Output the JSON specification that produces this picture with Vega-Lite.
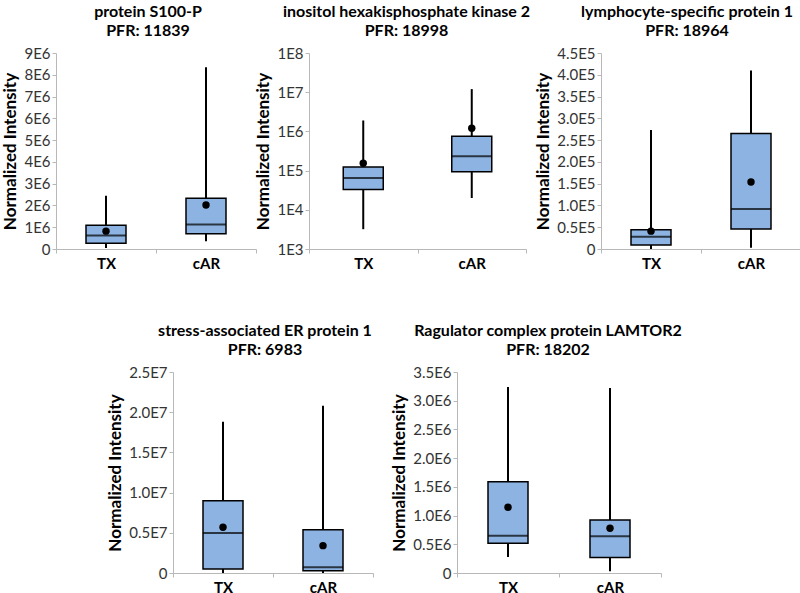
{
  "$schema": "https://vega.github.io/schema/vega-lite/v6.json",
  "padding": {"left": 1, "top": 4, "right": 0, "bottom": 0},
  "background": "white",
  "data": {"values": [
    {"panel": "p1", "group": "TX", "min": 50000, "q1": 260000, "median": 620000, "q3": 1090000, "max": 2440000, "mean": 820000},
    {"panel": "p1", "group": "cAR", "min": 360000, "q1": 700000, "median": 1130000, "q3": 2330000, "max": 8350000, "mean": 2020000},
    {"panel": "p2", "group": "TX", "min": 3200, "q1": 33000, "median": 65000, "q3": 123000, "max": 1900000, "mean": 155000},
    {"panel": "p2", "group": "cAR", "min": 20000, "q1": 94000, "median": 234000, "q3": 750000, "max": 12000000, "mean": 1200000},
    {"panel": "p3", "group": "TX", "min": 0, "q1": 9000, "median": 28000, "q3": 44000, "max": 273000, "mean": 41000},
    {"panel": "p3", "group": "cAR", "min": 3000, "q1": 46000, "median": 92000, "q3": 265000, "max": 410000, "mean": 154000},
    {"panel": "p4", "group": "TX", "min": 0, "q1": 500000, "median": 4970000, "q3": 9000000, "max": 18800000, "mean": 5700000},
    {"panel": "p4", "group": "cAR", "min": 0, "q1": 290000, "median": 700000, "q3": 5380000, "max": 20800000, "mean": 3400000},
    {"panel": "p5", "group": "TX", "min": 280000, "q1": 520000, "median": 650000, "q3": 1590000, "max": 3240000, "mean": 1145000},
    {"panel": "p5", "group": "cAR", "min": 30000, "q1": 270000, "median": 640000, "q3": 925000, "max": 3220000, "mean": 780000}
  ]},
  "spacing": 52,
  "vconcat": [
    {
      "hconcat": [
        {
          "width": 200, "height": 196,
          "title": {"text": ["protein S100-P", "PFR: 11839"], "dx": -8},
          "transform": [{"filter": "datum.panel == 'p1'"}],
          "encoding": {"x": {"field": "group", "type": "nominal", "sort": ["TX", "cAR"], "scale": {"paddingInner": 0, "paddingOuter": 0}}},
          "layer": [
            {"mark": {"type": "rule", "strokeWidth": 2, "color": "black"},
             "encoding": {"y": {"field": "min", "type": "quantitative", "title": "Normalized Intensity", "scale": {"domain": [0, 9000000], "nice": false}, "axis": {"labelOverlap": false, "tickCount": 10, "values": [0, 1000000, 2000000, 3000000, 4000000, 5000000, 6000000, 7000000, 8000000, 9000000], "labelExpr": "datum.value == 0 ? '0' : format(datum.value / 1000000, 'd') + 'E6'"}}, "y2": {"field": "max"}}},
            {"mark": {"type": "bar", "size": 40, "fill": "#8DB3E2", "stroke": "black", "strokeWidth": 1.5},
             "encoding": {"y": {"field": "q1", "type": "quantitative", "title": "Normalized Intensity", "axis": {"labelOverlap": false, "tickCount": 10, "values": [0, 1000000, 2000000, 3000000, 4000000, 5000000, 6000000, 7000000, 8000000, 9000000], "labelExpr": "datum.value == 0 ? '0' : format(datum.value / 1000000, 'd') + 'E6'"}}, "y2": {"field": "q3"}}},
            {"mark": {"type": "tick", "size": 40, "thickness": 2, "color": "black"},
             "encoding": {"y": {"field": "median", "type": "quantitative", "title": "Normalized Intensity", "axis": {"labelOverlap": false, "tickCount": 10, "values": [0, 1000000, 2000000, 3000000, 4000000, 5000000, 6000000, 7000000, 8000000, 9000000], "labelExpr": "datum.value == 0 ? '0' : format(datum.value / 1000000, 'd') + 'E6'"}}}},
            {"mark": {"type": "point", "filled": true, "size": 55, "color": "black", "opacity": 1},
             "encoding": {"y": {"field": "mean", "type": "quantitative", "title": "Normalized Intensity", "axis": {"labelOverlap": false, "tickCount": 10, "values": [0, 1000000, 2000000, 3000000, 4000000, 5000000, 6000000, 7000000, 8000000, 9000000], "labelExpr": "datum.value == 0 ? '0' : format(datum.value / 1000000, 'd') + 'E6'"}}}}
          ]
        },
        {"width": 53, "height": 196, "data": {"values": []}, "mark": {"type": "point"}},
        {
          "width": 217, "height": 196,
          "title": {"text": ["inositol hexakisphosphate kinase 2", "PFR: 18998"], "dx": -11},
          "transform": [{"filter": "datum.panel == 'p2'"}],
          "encoding": {"x": {"field": "group", "type": "nominal", "sort": ["TX", "cAR"], "scale": {"paddingInner": 0, "paddingOuter": 0}}},
          "layer": [
            {"mark": {"type": "rule", "strokeWidth": 2, "color": "black"},
             "encoding": {"y": {"field": "min", "type": "quantitative", "title": "Normalized Intensity", "scale": {"type": "log", "domain": [1000, 100000000], "nice": false}, "axis": {"labelOverlap": false, "values": [1000, 10000, 100000, 1000000, 10000000, 100000000], "labelExpr": "'1E' + round(log(datum.value) / LN10)"}}, "y2": {"field": "max"}}},
            {"mark": {"type": "bar", "size": 40, "fill": "#8DB3E2", "stroke": "black", "strokeWidth": 1.5},
             "encoding": {"y": {"field": "q1", "type": "quantitative", "title": "Normalized Intensity", "axis": {"labelOverlap": false, "values": [1000, 10000, 100000, 1000000, 10000000, 100000000], "labelExpr": "'1E' + round(log(datum.value) / LN10)"}}, "y2": {"field": "q3"}}},
            {"mark": {"type": "tick", "size": 40, "thickness": 2, "color": "black"},
             "encoding": {"y": {"field": "median", "type": "quantitative", "title": "Normalized Intensity", "axis": {"labelOverlap": false, "values": [1000, 10000, 100000, 1000000, 10000000, 100000000], "labelExpr": "'1E' + round(log(datum.value) / LN10)"}}}},
            {"mark": {"type": "point", "filled": true, "size": 55, "color": "black", "opacity": 1},
             "encoding": {"y": {"field": "mean", "type": "quantitative", "title": "Normalized Intensity", "axis": {"labelOverlap": false, "values": [1000, 10000, 100000, 1000000, 10000000, 100000000], "labelExpr": "'1E' + round(log(datum.value) / LN10)"}}}}
          ]
        },
        {"width": 75, "height": 196, "data": {"values": []}, "mark": {"type": "point"}},
        {
          "width": 200, "height": 196,
          "title": {"text": ["lymphocyte-specific protein 1", "PFR: 18964"], "dx": -14},
          "transform": [{"filter": "datum.panel == 'p3'"}],
          "encoding": {"x": {"field": "group", "type": "nominal", "sort": ["TX", "cAR"], "scale": {"paddingInner": 0, "paddingOuter": 0}}},
          "layer": [
            {"mark": {"type": "rule", "strokeWidth": 2, "color": "black"},
             "encoding": {"y": {"field": "min", "type": "quantitative", "title": "Normalized Intensity", "scale": {"domain": [0, 450000], "nice": false}, "axis": {"labelOverlap": false, "tickCount": 10, "values": [0, 50000, 100000, 150000, 200000, 250000, 300000, 350000, 400000, 450000], "labelExpr": "datum.value == 0 ? '0' : format(datum.value / 100000, '.1f') + 'E5'"}}, "y2": {"field": "max"}}},
            {"mark": {"type": "bar", "size": 40, "fill": "#8DB3E2", "stroke": "black", "strokeWidth": 1.5},
             "encoding": {"y": {"field": "q1", "type": "quantitative", "title": "Normalized Intensity", "axis": {"labelOverlap": false, "tickCount": 10, "values": [0, 50000, 100000, 150000, 200000, 250000, 300000, 350000, 400000, 450000], "labelExpr": "datum.value == 0 ? '0' : format(datum.value / 100000, '.1f') + 'E5'"}}, "y2": {"field": "q3"}}},
            {"mark": {"type": "tick", "size": 40, "thickness": 2, "color": "black"},
             "encoding": {"y": {"field": "median", "type": "quantitative", "title": "Normalized Intensity", "axis": {"labelOverlap": false, "tickCount": 10, "values": [0, 50000, 100000, 150000, 200000, 250000, 300000, 350000, 400000, 450000], "labelExpr": "datum.value == 0 ? '0' : format(datum.value / 100000, '.1f') + 'E5'"}}}},
            {"mark": {"type": "point", "filled": true, "size": 55, "color": "black", "opacity": 1},
             "encoding": {"y": {"field": "mean", "type": "quantitative", "title": "Normalized Intensity", "axis": {"labelOverlap": false, "tickCount": 10, "values": [0, 50000, 100000, 150000, 200000, 250000, 300000, 350000, 400000, 450000], "labelExpr": "datum.value == 0 ? '0' : format(datum.value / 100000, '.1f') + 'E5'"}}}}
          ]
        }
      ],
      "spacing": 0,
      "bounds": "flush"
    },
    {
      "hconcat": [
        {"width": 117, "height": 201, "data": {"values": []}, "mark": {"type": "point"}},
        {
          "width": 200, "height": 201,
          "title": {"text": ["stress-associated ER protein 1", "PFR: 6983"], "dx": -8},
          "transform": [{"filter": "datum.panel == 'p4'"}],
          "encoding": {"x": {"field": "group", "type": "nominal", "sort": ["TX", "cAR"], "scale": {"paddingInner": 0, "paddingOuter": 0}}},
          "layer": [
            {"mark": {"type": "rule", "strokeWidth": 2, "color": "black"},
             "encoding": {"y": {"field": "min", "type": "quantitative", "title": "Normalized Intensity", "scale": {"domain": [0, 25000000], "nice": false}, "axis": {"labelOverlap": false, "values": [0, 5000000, 10000000, 15000000, 20000000, 25000000], "labelExpr": "datum.value == 0 ? '0' : format(datum.value / 10000000, '.1f') + 'E7'"}}, "y2": {"field": "max"}}},
            {"mark": {"type": "bar", "size": 40, "fill": "#8DB3E2", "stroke": "black", "strokeWidth": 1.5},
             "encoding": {"y": {"field": "q1", "type": "quantitative", "title": "Normalized Intensity", "axis": {"labelOverlap": false, "values": [0, 5000000, 10000000, 15000000, 20000000, 25000000], "labelExpr": "datum.value == 0 ? '0' : format(datum.value / 10000000, '.1f') + 'E7'"}}, "y2": {"field": "q3"}}},
            {"mark": {"type": "tick", "size": 40, "thickness": 2, "color": "black"},
             "encoding": {"y": {"field": "median", "type": "quantitative", "title": "Normalized Intensity", "axis": {"labelOverlap": false, "values": [0, 5000000, 10000000, 15000000, 20000000, 25000000], "labelExpr": "datum.value == 0 ? '0' : format(datum.value / 10000000, '.1f') + 'E7'"}}}},
            {"mark": {"type": "point", "filled": true, "size": 55, "color": "black", "opacity": 1},
             "encoding": {"y": {"field": "mean", "type": "quantitative", "title": "Normalized Intensity", "axis": {"labelOverlap": false, "values": [0, 5000000, 10000000, 15000000, 20000000, 25000000], "labelExpr": "datum.value == 0 ? '0' : format(datum.value / 10000000, '.1f') + 'E7'"}}}}
          ]
        },
        {"width": 84, "height": 201, "data": {"values": []}, "mark": {"type": "point"}},
        {
          "width": 204, "height": 201,
          "title": {"text": ["Ragulator complex protein LAMTOR2", "PFR: 18202"], "dx": -11},
          "transform": [{"filter": "datum.panel == 'p5'"}],
          "encoding": {"x": {"field": "group", "type": "nominal", "sort": ["TX", "cAR"], "scale": {"paddingInner": 0, "paddingOuter": 0}}},
          "layer": [
            {"mark": {"type": "rule", "strokeWidth": 2, "color": "black"},
             "encoding": {"y": {"field": "min", "type": "quantitative", "title": "Normalized Intensity", "scale": {"domain": [0, 3500000], "nice": false}, "axis": {"labelOverlap": false, "tickCount": 8, "values": [0, 500000, 1000000, 1500000, 2000000, 2500000, 3000000, 3500000], "labelExpr": "datum.value == 0 ? '0' : format(datum.value / 1000000, '.1f') + 'E6'"}}, "y2": {"field": "max"}}},
            {"mark": {"type": "bar", "size": 40, "fill": "#8DB3E2", "stroke": "black", "strokeWidth": 1.5},
             "encoding": {"y": {"field": "q1", "type": "quantitative", "title": "Normalized Intensity", "axis": {"labelOverlap": false, "tickCount": 8, "values": [0, 500000, 1000000, 1500000, 2000000, 2500000, 3000000, 3500000], "labelExpr": "datum.value == 0 ? '0' : format(datum.value / 1000000, '.1f') + 'E6'"}}, "y2": {"field": "q3"}}},
            {"mark": {"type": "tick", "size": 40, "thickness": 2, "color": "black"},
             "encoding": {"y": {"field": "median", "type": "quantitative", "title": "Normalized Intensity", "axis": {"labelOverlap": false, "tickCount": 8, "values": [0, 500000, 1000000, 1500000, 2000000, 2500000, 3000000, 3500000], "labelExpr": "datum.value == 0 ? '0' : format(datum.value / 1000000, '.1f') + 'E6'"}}}},
            {"mark": {"type": "point", "filled": true, "size": 55, "color": "black", "opacity": 1},
             "encoding": {"y": {"field": "mean", "type": "quantitative", "title": "Normalized Intensity", "axis": {"labelOverlap": false, "tickCount": 8, "values": [0, 500000, 1000000, 1500000, 2000000, 2500000, 3000000, 3500000], "labelExpr": "datum.value == 0 ? '0' : format(datum.value / 1000000, '.1f') + 'E6'"}}}}
          ]
        }
      ],
      "spacing": 0,
      "bounds": "flush"
    }
  ],
  "config": {
    "view": {"stroke": null},
    "font": "Lato",
    "title": {"font": "Lato", "fontSize": 16, "fontWeight": "bold", "color": "black", "lineHeight": 19, "offset": 7, "anchor": "middle"},
    "axis": {"grid": false, "labelOverlap": false, "domainColor": "#b8b8b8", "tickColor": "#b8b8b8", "domainWidth": 1, "labelFont": "Lato", "titleFont": "Lato"},
    "axisY": {"labelFontSize": 15, "labelColor": "#333333", "labelPadding": 2, "tickSize": 4, "titleFontSize": 17, "titleFontWeight": "bold", "titleColor": "black", "titlePadding": 4},
    "axisX": {"title": null, "labelAngle": 0, "labelFontSize": 15, "labelFontWeight": "bold", "labelColor": "black", "labelPadding": 3, "tickBand": "extent", "tickSize": 4}
  }
}
